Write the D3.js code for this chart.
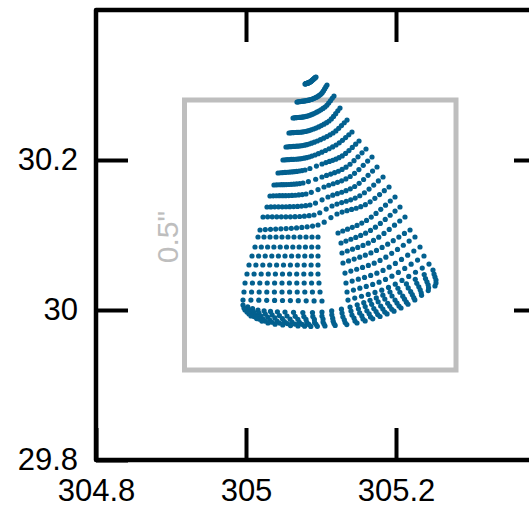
<!DOCTYPE html>
<html><head><meta charset="utf-8">
<script src="https://cdn.jsdelivr.net/npm/d3@7"></script>
<style>body{margin:0;background:#fff;} svg{display:block;}</style>
</head><body>
<svg id="c" width="529" height="508"></svg>
<script>
const xDomain = [304.8, 305.4];
const yDomain = [29.8, 30.4];
const xTicks = [304.8, 305, 305.2];
const yTicks = [29.8, 30, 30.2];
const xTickLabels = ["304.8", "305", "305.2"];
const yTickLabels = ["29.8", "30", "30.2"];
const boxX = [304.918, 305.28];
const boxY = [29.92, 30.28];
const boxLabel = '0.5"';
const nCols = 26;

// each row: control points [column, x, y]
const row01 = [[0,305.0787,30.3013],[12,305.0853,30.304],[25,305.0933,30.3107]];
const row02 = [[0,305.068,30.2773],[12,305.0867,30.2807],[20,305.1,30.288],[25,305.108,30.3]];
const row03 = [[0,305.0627,30.256],[12,305.084,30.2593],[20,305.1053,30.2707],[25,305.1173,30.2853]];
const row04 = [[0,305.0573,30.236],[12,305.084,30.2393],[20,305.1107,30.252],[25,305.1253,30.2693]];
const row05 = [[0,305.0533,30.2173],[12,305.084,30.2213],[20,305.116,30.236],[25,305.1347,30.2533]];
const row06 = [[0,305.0493,30.2],[12,305.084,30.204],[20,305.12,30.22],[25,305.1413,30.2373]];
const row07 = [[0,305.0427,30.1827],[11,305.0787,30.1867],[14,305.1013,30.1947],[20,305.1283,30.2055],[25,305.1507,30.2253]];
const row08 = [[0,305.0373,30.1667],[11,305.076,30.1693],[14,305.1013,30.1773],[20,305.1333,30.1904],[25,305.16,30.2147]];
const row09 = [[0,305.032,30.152],[11,305.08,30.1547],[14,305.104,30.164],[20,305.1389,30.178],[25,305.168,30.204]];
const row10 = [[0,305.028,30.1373],[11,305.0853,30.14],[14,305.1093,30.1507],[20,305.1449,30.1647],[25,305.1747,30.1907]];
const row11 = [[0,305.0227,30.124],[11,305.0907,30.1267],[14,305.1147,30.1387],[20,305.1517,30.1523],[25,305.1827,30.1773]];
const row12 = [[0,305.0187,30.1067],[11,305.096,30.1133],[14,305.1213,30.128],[20,305.1592,30.1405],[25,305.1907,30.164]];
const row13 = [[0,305.016,30.0973],[10,305.096,30.0973],[13,305.1227,30.1027],[19,305.1607,30.1195],[25,305.1987,30.1507]];
const row14 = [[0,305.012,30.084],[10,305.096,30.084],[13,305.1267,30.0893],[19,305.166,30.1061],[25,305.2053,30.1373]];
const row15 = [[0,305.008,30.072],[10,305.096,30.072],[13,305.128,30.076],[19,305.17,30.0928],[25,305.212,30.124]];
const row16 = [[0,305.004,30.06],[10,305.096,30.06],[13,305.1293,30.0627],[19,305.174,30.0795],[25,305.2187,30.1067]];
const row17 = [[0,305.0013,30.048],[10,305.096,30.048],[13,305.132,30.0493],[19,305.1787,30.0661],[25,305.2253,30.0973]];
const row18 = [[0,304.9987,30.036],[10,305.0973,30.036],[13,305.1333,30.036],[19,305.1827,30.0528],[25,305.232,30.084]];
const row19 = [[0,304.9973,30.024],[10,305.0987,30.024],[13,305.1347,30.024],[19,305.186,30.0408],[25,305.2373,30.072]];
const row20 = [[0,304.996,30.0133],[10,305.1013,30.012],[13,305.136,30.0133],[19,305.19,30.0301],[25,305.244,30.0613]];
const row21 = [[0,304.996,30.0067],[3,305.016,30.0],[7,305.052,29.9973],[11,305.1013,29.9973],[14,305.1387,30.004],[20,305.192,30.024],[25,305.2493,30.0533]];
const row22 = [[0,304.9973,30.0027],[3,305.0173,29.996],[7,305.0547,29.992],[11,305.1013,29.992],[14,305.14,29.9987],[20,305.1947,30.0187],[25,305.2507,30.048]];
const row23 = [[0,304.9987,30.0],[3,305.02,29.992],[7,305.0587,29.988],[11,305.1027,29.988],[14,305.1413,29.9933],[20,305.1987,30.0133],[25,305.252,30.044]];
const row24 = [[0,305.0013,29.9973],[3,305.0227,29.988],[7,305.0613,29.984],[11,305.1027,29.984],[14,305.144,29.9893],[20,305.2013,30.0093],[25,305.2533,30.04]];
const row25 = [[0,305.004,29.9947],[3,305.0253,29.9853],[7,305.0653,29.9813],[11,305.104,29.9813],[14,305.1453,29.9853],[20,305.204,30.0053],[25,305.2533,30.036]];
const row26 = [[0,305.0067,29.992],[3,305.0293,29.9827],[7,305.0693,29.9787],[11,305.1053,29.9787],[14,305.148,29.9827],[20,305.2067,30.0027],[25,305.252,30.032]];
const rows = [row01,row02,row03,row04,row05,row06,row07,row08,row09,row10,row11,row12,row13,
              row14,row15,row16,row17,row18,row19,row20,row21,row22,row23,row24,row25,row26];
// rows (1-based) and columns with no samples (the notch)
const notchRows = [13,14,15,16,17,18,19,20];
const notchCols = [11,12];

const svg = d3.select('#c');
const x = d3.scaleLinear().domain(xDomain).range([96, 546]);
const y = d3.scaleLinear().domain(yDomain).range([460, 10]);
const font = '"Liberation Sans", Arial, sans-serif';

// grey scale box
svg.append('rect')
  .attr('x', x(boxX[0])).attr('y', y(boxY[1]))
  .attr('width', x(boxX[1]) - x(boxX[0])).attr('height', y(boxY[0]) - y(boxY[1]))
  .attr('fill', 'none').attr('stroke', '#bebebe').attr('stroke-width', 5);
svg.append('text')
  .attr('transform', `translate(${x(boxX[0]) - 6.5},${y((boxY[0] + boxY[1]) / 2) + 2}) rotate(-90)`)
  .attr('text-anchor', 'middle')
  .attr('font-family', font).attr('font-size', 30).attr('fill', '#bebebe')
  .text(boxLabel);

// sample a run of control points at integer grid columns (smooth Hermite through the points)
function samplePiece(r, c0, c1) {
  const n = r.length;
  const tan = r.map((p, k) => {
    const a = r[Math.max(0, k - 1)], b = r[Math.min(n - 1, k + 1)];
    const dc = b[0] - a[0];
    return [(b[1] - a[1]) / dc, (b[2] - a[2]) / dc];
  });
  const out = [];
  for (let c = c0; c <= c1; c++) {
    let k = 0;
    while (k < n - 2 && r[k + 1][0] < c) k++;
    const a = r[k], b = r[k + 1], h = b[0] - a[0];
    const t = (c - a[0]) / h;
    const h00 = 2*t*t*t - 3*t*t + 1, h10 = t*t*t - 2*t*t + t, h01 = -2*t*t*t + 3*t*t, h11 = t*t*t - t*t;
    out.push([
      h00*a[1] + h10*h*tan[k][0] + h01*b[1] + h11*h*tan[k+1][0],
      h00*a[2] + h10*h*tan[k][1] + h01*b[2] + h11*h*tan[k+1][1]]);
  }
  return out;
}
const dots = [];
rows.forEach((r, i) => {
  if (notchRows.includes(i + 1)) {
    const gapA = d3.min(notchCols), gapB = d3.max(notchCols);
    const left = r.filter(p => p[0] < gapA), right = r.filter(p => p[0] > gapB);
    dots.push(...samplePiece(left, 0, gapA - 1));
    dots.push(...samplePiece(right, gapB + 1, nCols - 1));
  } else {
    dots.push(...samplePiece(r, 0, nCols - 1));
  }
});
svg.append('g').selectAll('circle').data(dots).join('circle')
  .attr('cx', d => x(d[0])).attr('cy', d => y(d[1])).attr('r', 2.6)
  .attr('fill', '#03608f');

// axes
function styleAxis(g) {
  g.select('.domain').remove();
  g.selectAll('.tick line').attr('stroke', '#000').attr('stroke-width', 4);
  g.selectAll('.tick text').attr('font-family', font).attr('font-size', 31).attr('fill', '#000');
}
svg.append('g').attr('transform', `translate(0,${y(yDomain[0])})`)
  .call(d3.axisBottom(x).tickValues(xTicks).tickFormat((d, i) => xTickLabels[i]).tickSizeInner(-32).tickSizeOuter(0).tickPadding(19))
  .call(styleAxis);
svg.append('g').attr('transform', `translate(${x(xDomain[0])},0)`)
  .call(d3.axisLeft(y).tickValues(yTicks).tickFormat((d, i) => yTickLabels[i]).tickSizeInner(-32).tickSizeOuter(0).tickPadding(18))
  .call(styleAxis);
svg.append('g').attr('transform', `translate(0,${y(yDomain[1])})`)
  .call(d3.axisTop(x).tickValues(xTicks.slice(1)).tickFormat('').tickSizeInner(-32).tickSizeOuter(0))
  .call(styleAxis);
svg.append('g').attr('transform', `translate(${x(xDomain[1])},0)`)
  .call(d3.axisRight(y).tickValues(yTicks.slice(1)).tickFormat('').tickSizeInner(-32).tickSizeOuter(0))
  .call(styleAxis);

// frame
svg.append('rect')
  .attr('x', x(xDomain[0])).attr('y', y(yDomain[1]))
  .attr('width', x(xDomain[1]) - x(xDomain[0])).attr('height', y(yDomain[0]) - y(yDomain[1]))
  .attr('fill', 'none').attr('stroke', '#000').attr('stroke-width', 4.5).attr('stroke-linejoin', 'round');
</script>
</body></html>
